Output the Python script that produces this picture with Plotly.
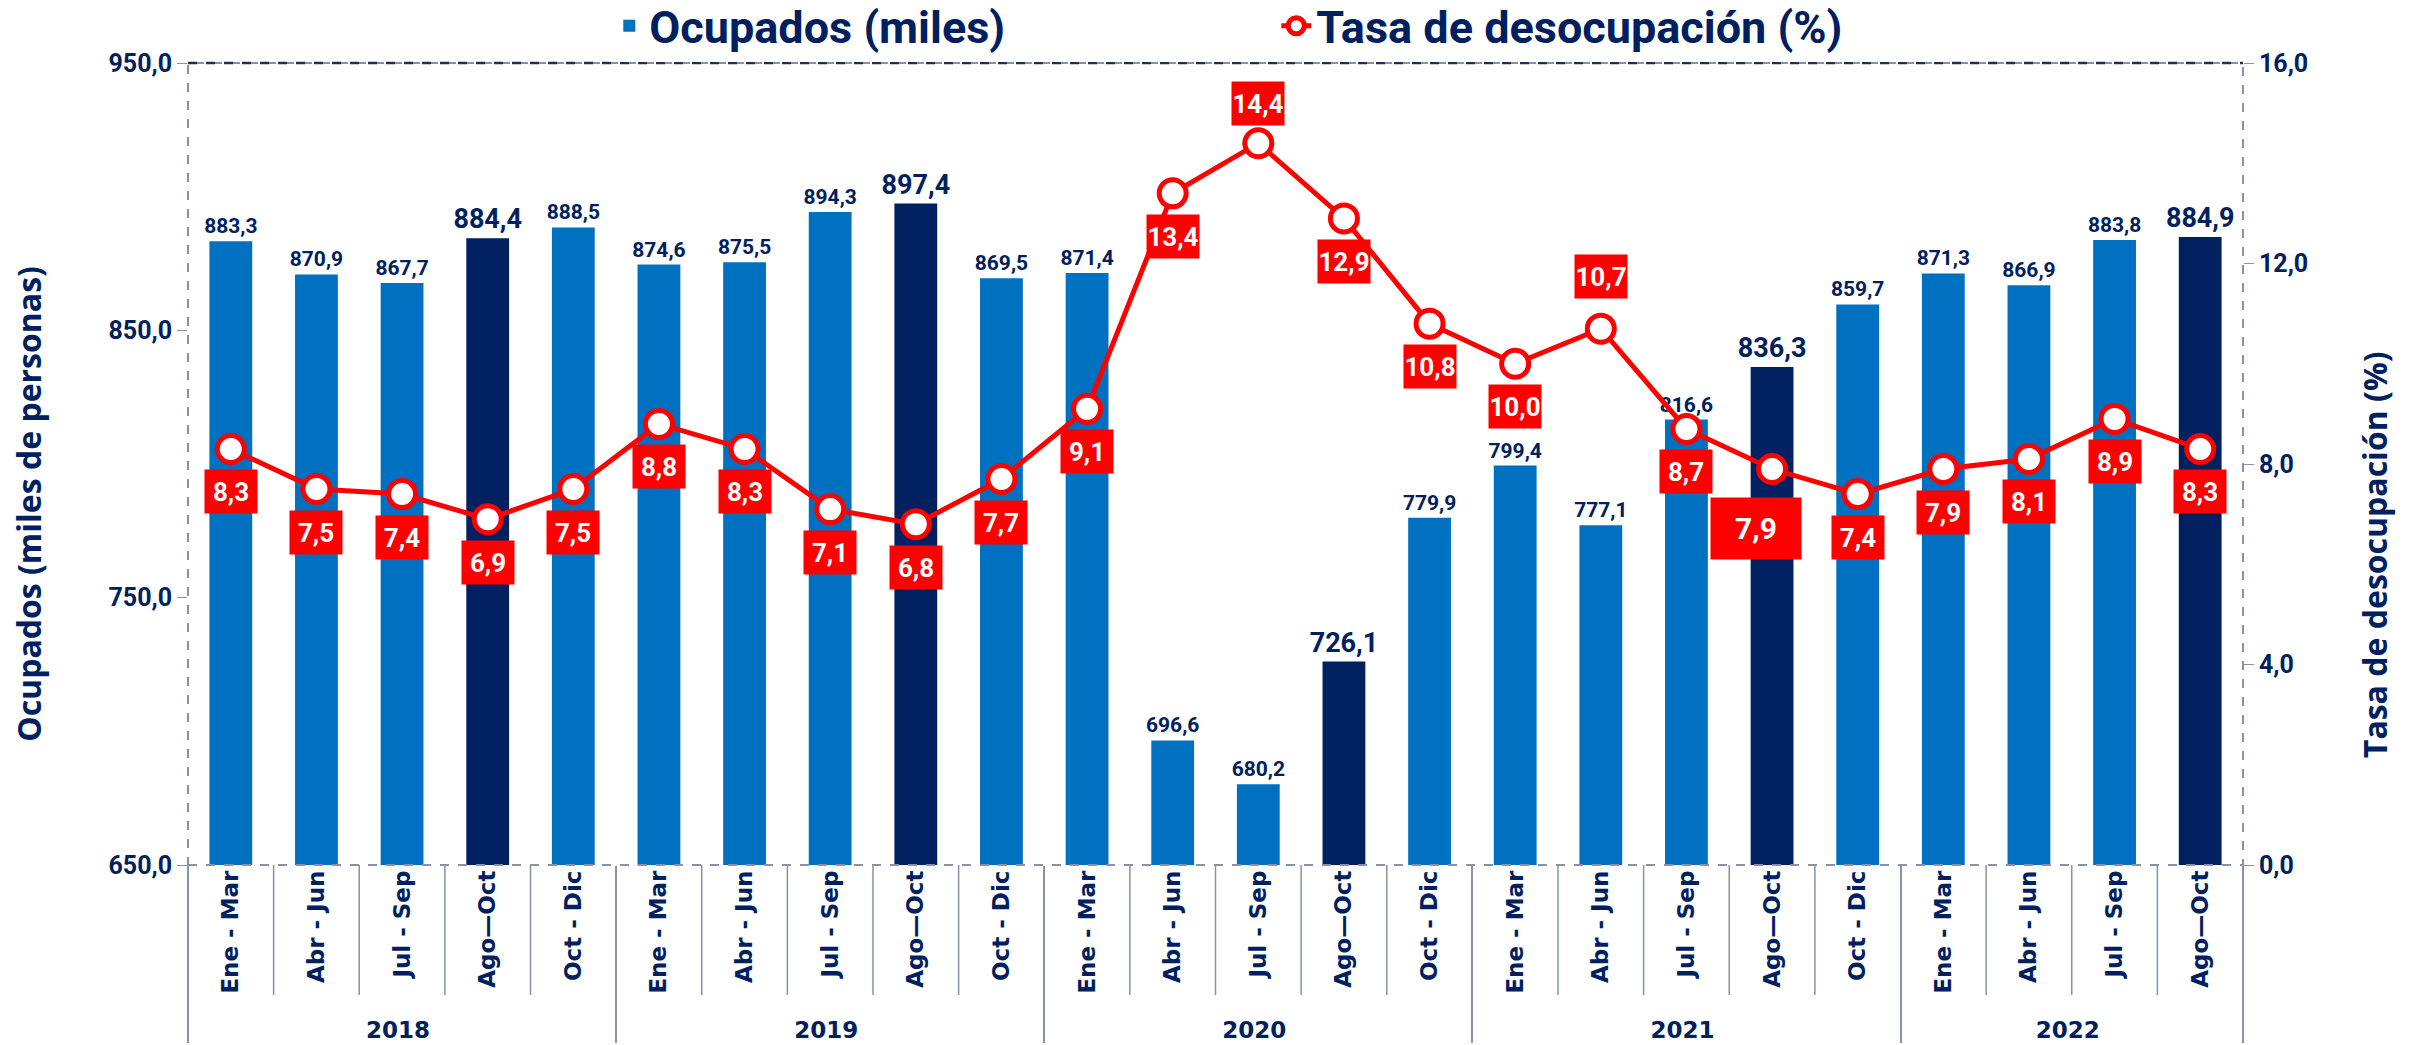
import plotly.graph_objects as go

# quarters / periods
years = ["2018"] * 5 + ["2019"] * 5 + ["2020"] * 5 + ["2021"] * 5 + ["2022"] * 4
periods = (["Ene - Mar", "Abr - Jun", "Jul - Sep", "Ago—Oct", "Oct - Dic"] * 4
           + ["Ene - Mar", "Abr - Jun", "Jul - Sep", "Ago—Oct"])

ocupados = [883.3, 870.9, 867.7, 884.4, 888.5,
            874.6, 875.5, 894.3, 897.4, 869.5,
            871.4, 696.6, 680.2, 726.1, 779.9,
            799.4, 777.1, 816.6, 836.3, 859.7,
            871.3, 866.9, 883.8, 884.9]

tasa = [8.3, 7.5, 7.4, 6.9, 7.5,
        8.8, 8.3, 7.1, 6.8, 7.7,
        9.1, 13.4, 14.4, 12.9, 10.8,
        10.0, 10.7, 8.7, 7.9, 7.4,
        7.9, 8.1, 8.9, 8.3]

NAVY = "#002060"
BLUE = "#0070C0"
RED = "#FF0000"
GRAY = "#8A90A8"
FONT = "Roboto, sans-serif"

highlight = [p == "Ago—Oct" for p in periods]
bar_colors = [NAVY if h else BLUE for h in highlight]
bar_text_sizes = [27 if h else 21 for h in highlight]

fig = go.Figure()
fig.add_trace(go.Bar(x=[years, periods], y=ocupados, name="Ocupados (miles)",
                     marker=dict(color=bar_colors, line=dict(width=0)), width=0.5,
                     texttemplate="%{y:.1f}", textposition="outside", cliponaxis=False,
                     constraintext="none",
                     textfont=dict(size=bar_text_sizes, color=NAVY, family=FONT, weight="bold")))
fig.add_trace(go.Scatter(x=[years, periods], y=tasa, yaxis="y2", name="Tasa de desocupación (%)",
                         mode="lines+markers", cliponaxis=False,
                         line=dict(color=RED, width=5),
                         marker=dict(size=27, color="white", line=dict(color=RED, width=5))))

# rate labels (red boxes)
special = {12: dict(yshift=40), 16: dict(yshift=52),
           18: dict(yshift=-59, xshift=-16, width=88, height=59, size=30)}
for i, v in enumerate(tasa):
    opts = dict(yshift=-43, xshift=0, width=50, height=41, size=26)
    opts.update(special.get(i, {}))
    size = opts.pop("size")
    fig.add_annotation(x=i, y=v, xref="x", yref="y2", showarrow=False,
                       text="<b>" + f"{v:.1f}".replace(".", ",") + "</b>",
                       font=dict(color="white", size=size, family=FONT),
                       bgcolor=RED, **opts)

# separators between quarters below the axis
for i in range(1, len(periods)):
    if years[i] == years[i - 1]:
        fig.add_shape(type="line", xref="x", yref="paper", x0=i - 0.5, x1=i - 0.5,
                      y0=0, y1=-130 / 802, line=dict(color=GRAY, width=1.5))

# axis titles
fig.add_annotation(x=-0.078, y=0.45, xref="paper", yref="paper", showarrow=False,
                   xanchor="center", yanchor="middle",
                   textangle=-90, text="<b>Ocupados (miles de personas)</b>",
                   font=dict(size=32, color=NAVY, family="Open Sans"))
fig.add_annotation(x=1.064, y=0.387, xref="paper", yref="paper", showarrow=False,
                   xanchor="center", yanchor="middle",
                   textangle=-90, text="<b>Tasa de desocupación (%)</b>",
                   font=dict(size=32, color=NAVY, family="Open Sans"))

# dashed frame
fig.add_shape(type="rect", xref="paper", yref="paper", x0=0, x1=1, y0=0, y1=1,
              line=dict(color=GRAY, width=2, dash="dash"), layer="above")
fig.add_shape(type="line", xref="paper", yref="paper", x0=0, x1=1, y0=1, y1=1,
              line=dict(color="#1F2D5C", width=2.5, dash="dash"), layer="above")

fig.update_layout(
    width=2417, height=1045,
    margin=dict(l=188, r=174, t=63, b=180, autoexpand=False),
    plot_bgcolor="white", paper_bgcolor="white",
    separators=",.",
    showlegend=True,
    legend=dict(orientation="h", x=0.205, xanchor="left",
                y=1 - 26 / 1045, yref="container", yanchor="middle",
                entrywidth=622, font=dict(size=45, color=NAVY, family=FONT, weight="bold")),
    xaxis=dict(type="multicategory", tickangle=-90, showgrid=False, automargin=False,
               range=[-0.5, len(periods) - 0.5],
               tickfont=dict(size=23, color=NAVY, family="DejaVu Sans", weight="bold"),
               showdividers=True, dividercolor=GRAY, dividerwidth=1.5, ticks=""),
    yaxis=dict(range=[650, 950], tick0=650, dtick=100, tickformat=".1f", showgrid=False,
               zeroline=False, automargin=False,
               ticks="outside", ticklen=10, tickcolor=GRAY,
               tickfont=dict(size=25, color=NAVY, family=FONT, weight="bold")),
    yaxis2=dict(range=[0, 16], dtick=4, tickformat=".1f", overlaying="y", side="right",
                showgrid=False, zeroline=False, automargin=False,
                ticks="outside", ticklen=10, tickcolor=GRAY,
                tickfont=dict(size=25, color=NAVY, family=FONT, weight="bold")),
)

fig.write_html("out.html", config={"displayModeBar": False},
               post_script="document.body.style.margin='0px';document.body.style.overflow='hidden';")
